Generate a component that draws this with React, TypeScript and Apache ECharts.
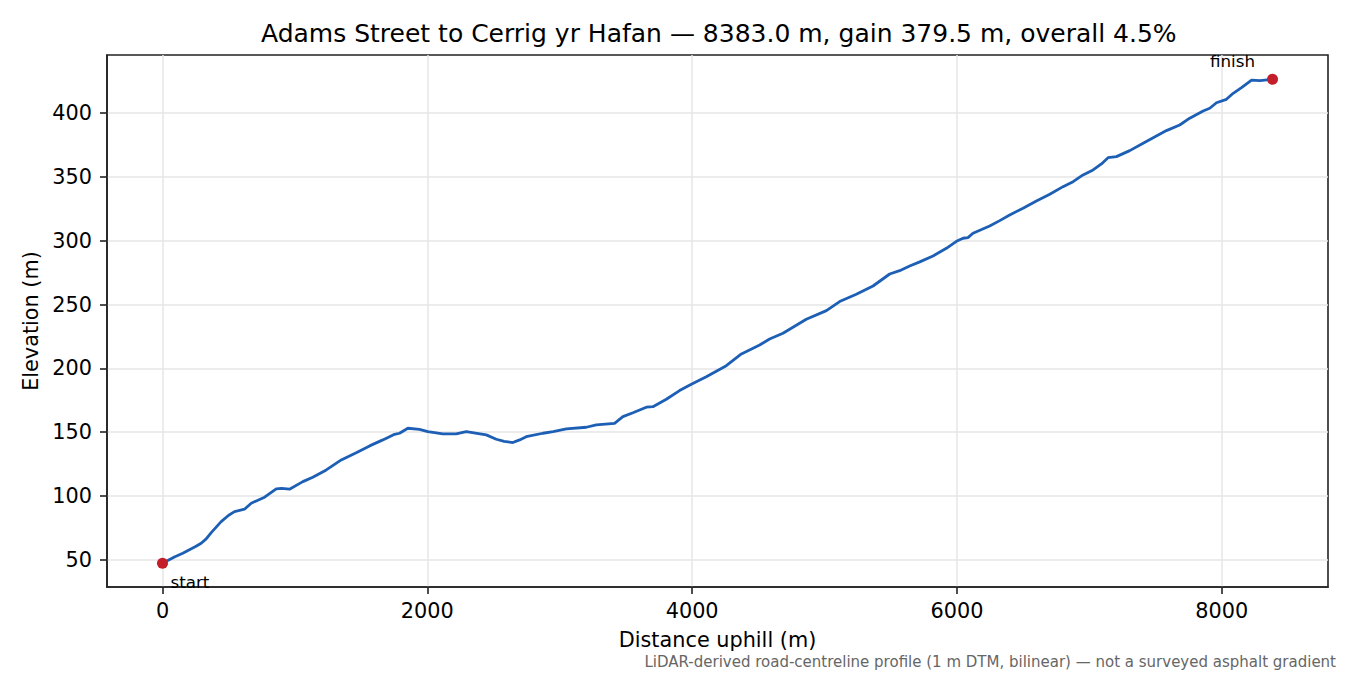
import { useEffect, useRef } from 'react'
import * as echarts from 'echarts'

// ── data ──────────────────────────────────────────────────────────
const distance = [
  0, 90, 153, 250, 292, 330, 368, 443, 500, 544, 619, 670, 771, 859, 900, 959,
  1060, 1135, 1237, 1350, 1463, 1564, 1664, 1753, 1790, 1853, 1941, 2004, 2117,
  2218, 2294, 2445, 2521, 2580, 2646, 2697, 2747, 2873, 2950, 3050, 3201, 3276,
  3414, 3477, 3553, 3654, 3704, 3805, 3905, 3994, 4107, 4258, 4372, 4510, 4585,
  4686, 4862, 5014, 5114, 5240, 5366, 5492, 5567, 5643, 5719, 5819, 5920, 5996,
  6046, 6083, 6121, 6247, 6323, 6398, 6499, 6600, 6701, 6801, 6877, 6952, 7028,
  7091, 7141, 7204, 7305, 7406, 7506, 7582, 7682, 7758, 7859, 7909, 7960, 8035,
  8086, 8149, 8225, 8288, 8383,
]
const elevation = [
  47.4, 52.3, 55.2, 60.5, 63.1, 66.5, 71.4, 80.0, 85.0, 87.8, 89.7, 94.4, 99.1,
  105.6, 106.0, 105.4, 111.3, 114.8, 120.5, 128.3, 134.0, 139.3, 144.0, 148.4,
  149.2, 153.1, 152.3, 150.5, 148.7, 148.7, 150.5, 147.9, 144.5, 142.8, 141.9,
  144.0, 146.5, 149.2, 150.5, 152.6, 153.9, 155.7, 157.0, 162.2, 165.3, 169.6,
  170.0, 175.8, 182.6, 187.6, 193.5, 202.1, 211.3, 218.3, 223.0, 227.5, 238.5,
  245.2, 252.3, 258.0, 264.5, 273.9, 276.5, 280.2, 283.4, 288.0, 294.0, 299.5,
  301.9, 302.4, 305.8, 311.5, 315.7, 320.1, 325.4, 331.1, 336.3, 342.3, 346.2,
  351.5, 355.4, 360.1, 365.0, 365.8, 370.5, 376.3, 382.0, 386.2, 390.6, 395.9,
  401.6, 403.7, 408.0, 410.7, 415.4, 419.8, 425.8, 425.3, 426.4,
]
const xTicks = [0, 2000, 4000, 6000, 8000]
const yTicks = [50, 100, 150, 200, 250, 300, 350, 400]
const endLabels = ['start', 'finish']

const titleText = 'Adams Street to Cerrig yr Hafan — 8383.0 m, gain 379.5 m, overall 4.5%'
const noteText = 'LiDAR-derived road-centreline profile (1 m DTM, bilinear) — not a surveyed asphalt gradient'

const FONT = 'DejaVu Sans, sans-serif'

function buildOption(): echarts.EChartsOption {
  const last = distance.length - 1
  const tickStyle = { color: '#222', width: 1.6 }

  return {
    animation: false,
    backgroundColor: '#fff',
    title: {
      text: titleText,
      left: 261,
      top: 21,
      padding: 0,
      textStyle: { fontFamily: FONT, fontSize: 25, fontWeight: 'normal', color: '#000' },
    },
    grid: {
      left: 107, right: 22, top: 55, bottom: 88,
      show: true, borderColor: '#222', borderWidth: 1.6,
    },
    xAxis: {
      type: 'value',
      min: -419.15, max: 8802.15,
      name: 'Distance uphill (m)',
      nameLocation: 'middle', nameGap: 42,
      nameTextStyle: { fontFamily: FONT, fontSize: 20.8, color: '#000' },
      axisLine: { show: true, onZero: false, lineStyle: tickStyle },
      axisTick: { show: true, length: 7, lineStyle: tickStyle, customValues: xTicks },
      axisLabel: {
        customValues: xTicks, margin: 13.5,
        formatter: (v: number) => String(v),
        fontFamily: FONT, fontSize: 20.8, color: '#000',
      },
      splitLine: { show: true, lineStyle: { color: '#e6e6e6', width: 1.5 } },
    },
    yAxis: {
      type: 'value',
      min: 28.8, max: 445.4,
      name: 'Elevation (m)',
      nameLocation: 'middle', nameGap: 59,
      nameTextStyle: { fontFamily: FONT, fontSize: 20.8, color: '#000' },
      axisLine: { show: true, onZero: false, lineStyle: tickStyle },
      axisTick: { show: true, length: 7, lineStyle: tickStyle, customValues: yTicks },
      axisLabel: {
        customValues: yTicks, margin: 15,
        formatter: (v: number) => String(v),
        fontFamily: FONT, fontSize: 20.8, color: '#000',
      },
      splitLine: { show: true, lineStyle: { color: '#e6e6e6', width: 1.5 } },
    },
    graphic: [
      {
        type: 'text', right: 14, top: 654,
        style: { text: noteText, fontFamily: FONT, fontSize: 15, fill: '#666' },
      },
    ],
    series: [
      {
        name: 'profile',
        type: 'line',
        data: distance.map((d, i) => [d, elevation[i]]),
        showSymbol: false,
        lineStyle: { color: '#1c5fb5', width: 2.8 },
        z: 2,
      },
      {
        name: 'ends',
        type: 'scatter',
        symbolSize: 11,
        itemStyle: { color: '#c41e2a', opacity: 1 },
        z: 3,
        data: [
          {
            value: [distance[0], elevation[0]],
            label: {
              show: true, formatter: endLabels[0], position: [13.5, 24.5],
              align: 'left', verticalAlign: 'middle',
            },
          },
          {
            value: [distance[last], elevation[last]],
            label: {
              show: true, formatter: endLabels[1], position: [-34.5, -13],
              align: 'center', verticalAlign: 'middle',
            },
          },
        ],
        label: { fontFamily: FONT, fontSize: 16.7, color: '#000' },
      },
    ],
  } as echarts.EChartsOption
}

export default function App() {
  const ref = useRef<HTMLDivElement>(null)

  useEffect(() => {
    if (!ref.current) return
    const chart = echarts.init(ref.current, undefined, { renderer: 'svg' })
    chart.setOption(buildOption())
    return () => chart.dispose()
  }, [])

  return (
    <div
      ref={ref}
      style={{ position: 'absolute', left: 0, top: 0, width: 1350, height: 675 }}
    />
  )
}
